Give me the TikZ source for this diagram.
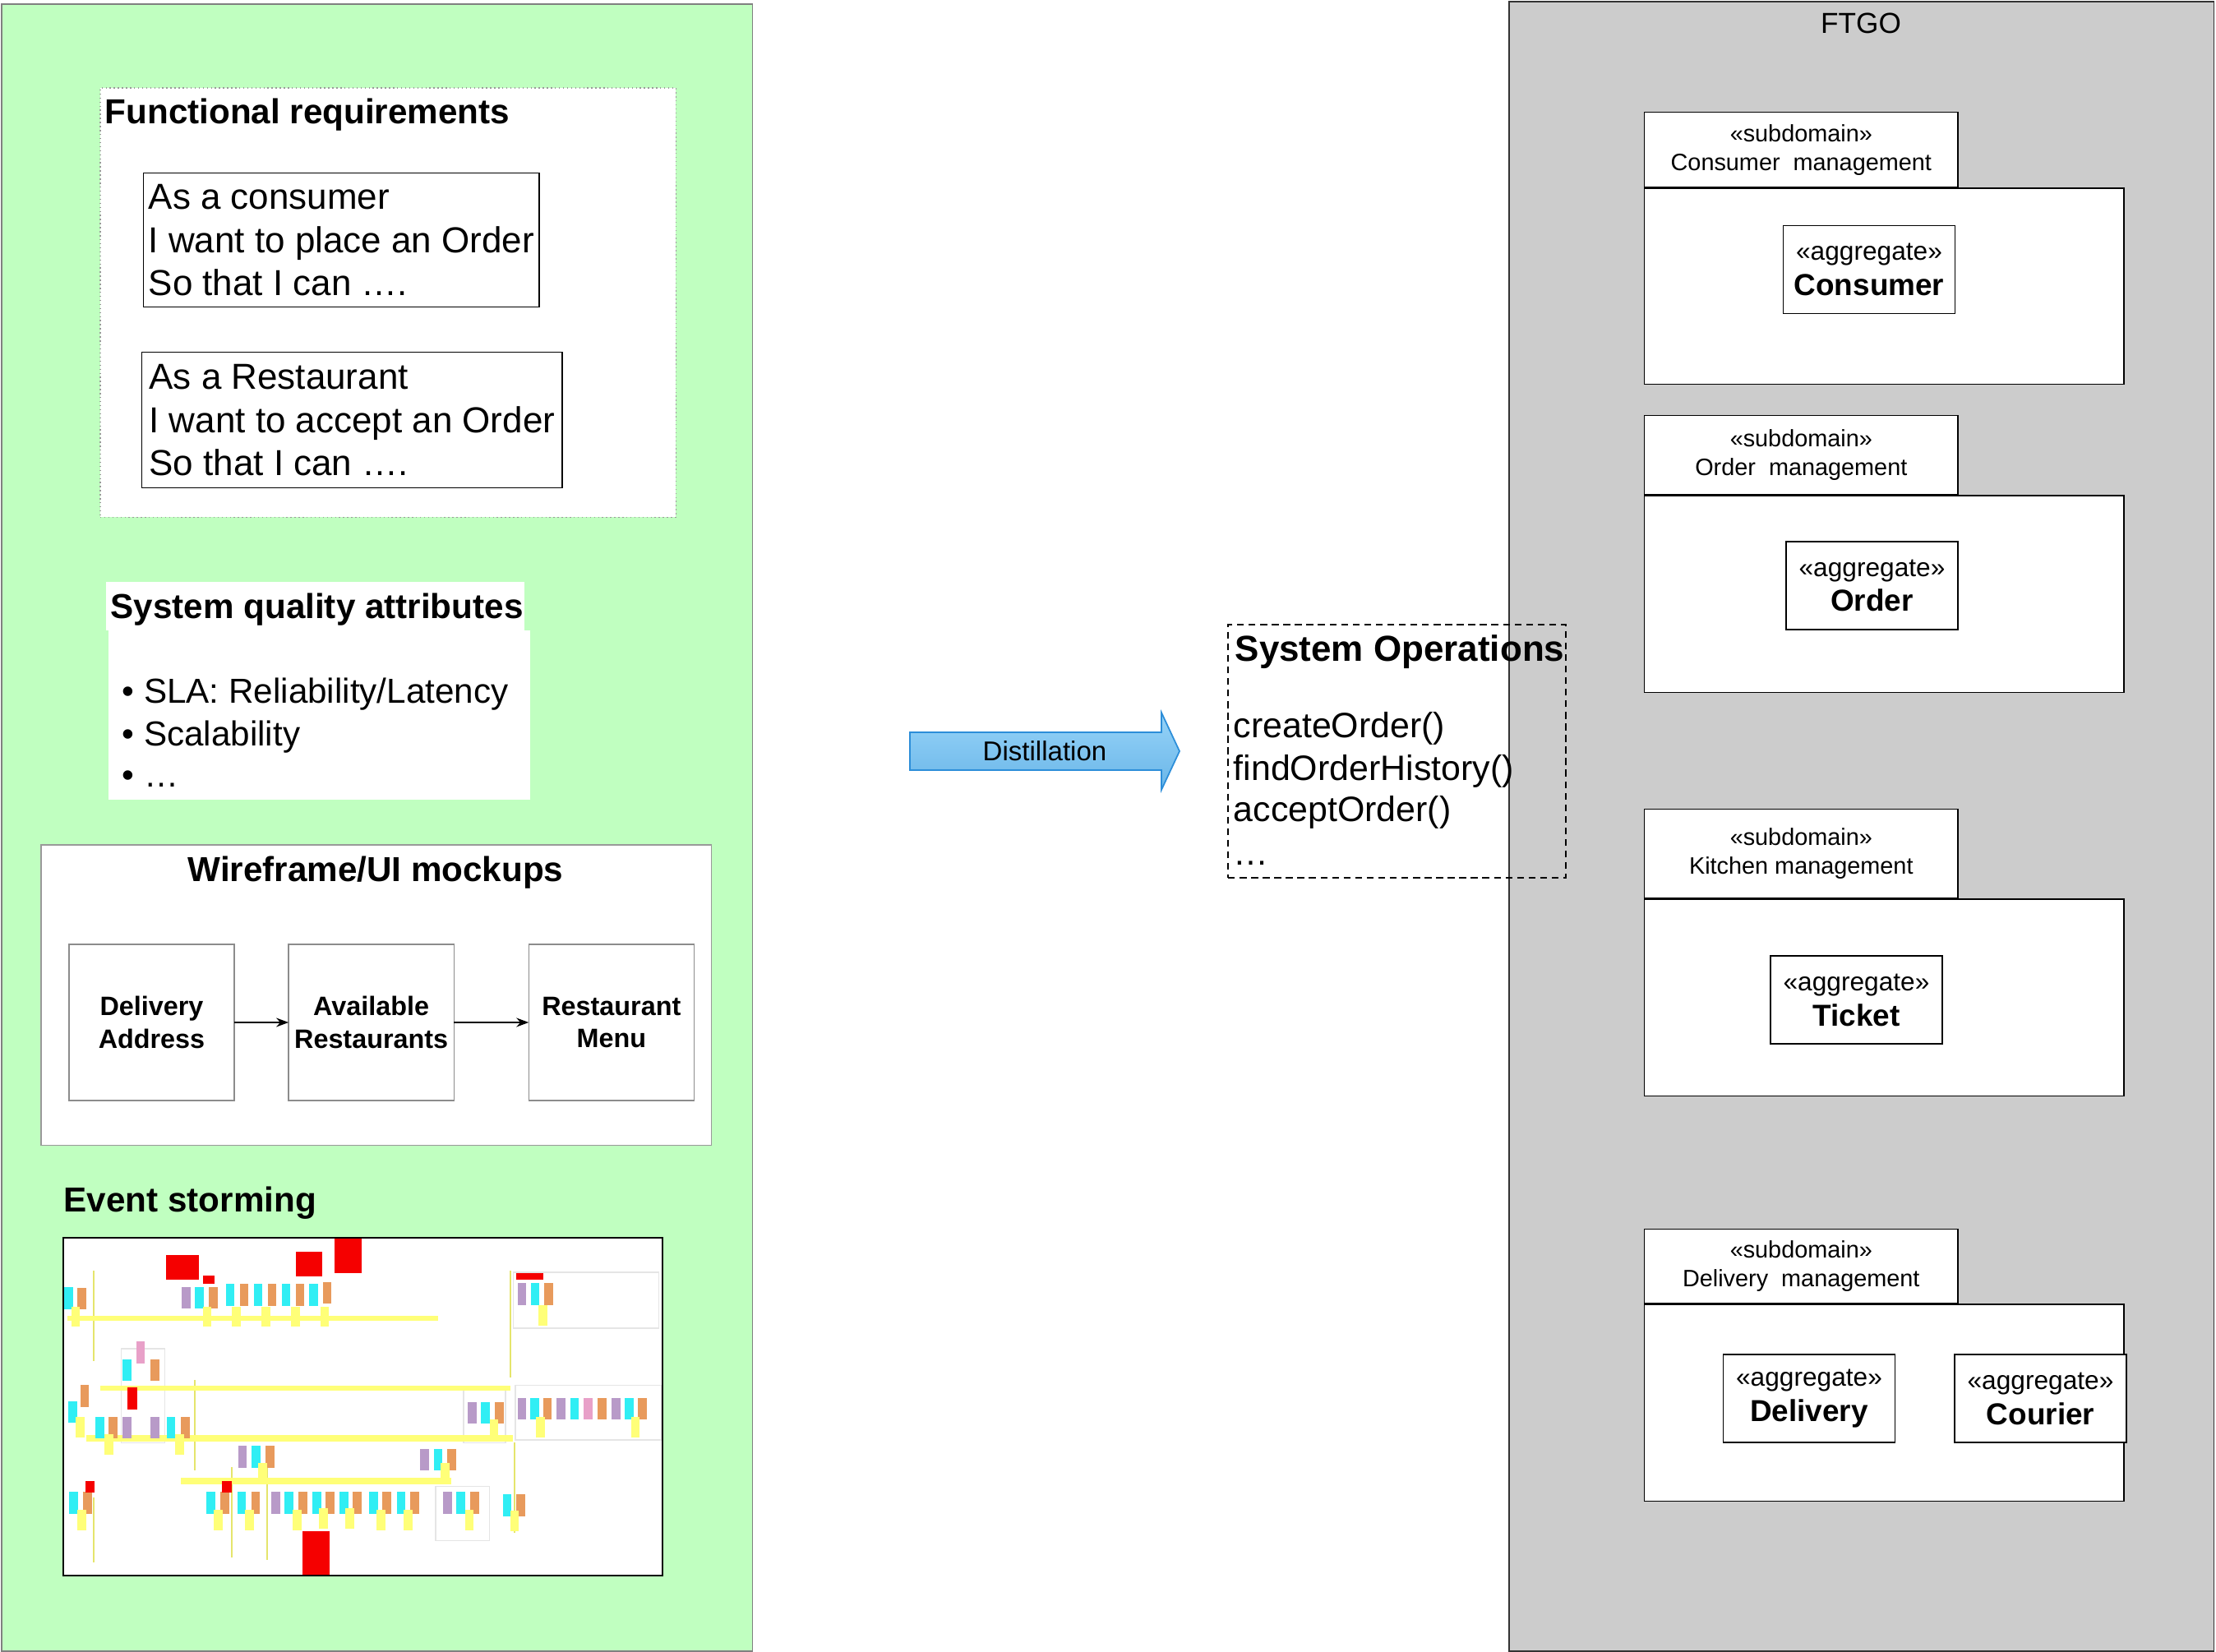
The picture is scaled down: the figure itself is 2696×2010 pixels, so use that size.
\documentclass[tikz,border=0pt]{standalone}
\usepackage{fontspec}
\setmainfont{Liberation Sans}
\usetikzlibrary{positioning,arrows.meta}
\definecolor{verde}{HTML}{C0FFC0}
\definecolor{gri}{HTML}{CCCCCC}
\definecolor{sagtop}{HTML}{96D3F8}
\definecolor{sagbot}{HTML}{6AB6E8}
\definecolor{sagline}{HTML}{2C8ED9}
\definecolor{stcyan}{HTML}{30EEF4}
\definecolor{storange}{HTML}{E89A5C}
\definecolor{stpurple}{HTML}{B89AC8}
\definecolor{stpink}{HTML}{E8A0C8}
\definecolor{styellow}{HTML}{FFFF78}
\definecolor{stred}{HTML}{F50000}
\newcommand{\aggtext}[1]{«aggregate»\\{\fontsize{10.5}{12.2}\selectfont\bfseries #1}}
\tikzset{
  panel/.style   = {anchor=north west, inner sep=0pt, outer sep=0pt},
  heading/.style = {font=\fontsize{12}{14}\selectfont\bfseries, inner sep=0pt},
  story/.style   = {draw, anchor=north west, align=left, inner xsep=1.5pt,
                    font=\fontsize{12.5}{15}\selectfont},
  item/.style    = {anchor=base west, inner sep=0pt, font=\fontsize{12}{14}\selectfont},
  op/.style      = {anchor=base west, inner sep=0pt, font=\fontsize{12.2}{14.4}\selectfont},
  screen/.style  = {draw=black!45, fill=white, outer sep=0pt, inner xsep=0pt,
                    minimum width=2.01cm, minimum height=1.90cm, align=center,
                    font=\fontsize{9.2}{11.3}\selectfont\bfseries},
  tab/.style     = {draw, fill=white, anchor=north west, minimum width=3.81cm, align=center,
                    font=\fontsize{8.2}{10}\selectfont},
  pkg/.style     = {draw, fill=white, minimum width=5.83cm},
  aggr/.style    = {draw, fill=white, minimum width=2.09cm, minimum height=1.07cm,
                    align=center, font=\fontsize{9}{12.2}\selectfont},
  flow/.style    = {-{Stealth[length=1.5mm, width=1.1mm]}}
}

\begin{document}
\begin{tikzpicture}[x=0.01cm, y=-0.01cm]
  \useasboundingbox (0,0) rectangle (2696,2010);

  % the two panels
  \node[panel, fill=verde, draw=black!50, minimum width=9.13cm, minimum height=20.03cm] (inputs) at (2,5) {};
  \node[panel, fill=gri, draw=black!80, minimum width=8.57cm, minimum height=20.06cm] (ftgo) at (1836,2) {};
  \node[anchor=base, inner sep=0pt, font=\fontsize{10}{12}\selectfont] (ftgot) at (2264,41) {FTGO};

  % functional requirements
  \node[panel, fill=white, draw=black!40, densely dotted, minimum width=7.00cm, minimum height=5.22cm] (fr) at (122,107) {};
  \node[heading, anchor=base west] (frt) at (127,151) {Functional requirements};
  \node[story, minimum width=4.81cm, minimum height=1.63cm] (us1) at (174,210)
      {As a consumer\\I want to place an Order\\So that I can ….};
  \node[story, minimum width=5.11cm, minimum height=1.65cm] (us2) at (172,428)
      {As a Restaurant\\I want to accept an Order\\So that I can ….};

  % quality attributes
  \node[panel, fill=white, minimum width=5.09cm, minimum height=0.59cm] (sqa) at (129,708) {};
  \node[panel, fill=white, minimum width=5.13cm, minimum height=2.06cm] (sqab) at (132,767) {};
  \node[heading, anchor=base west] (sqat) at (134,753) {System quality attributes};
  \node[item] (q1) at (148,856) {• SLA: Reliability/Latency};
  \node[item] (q2) at (148,908) {• Scalability};
  \node[item] (q3) at (148,958) {• …};

  % wireframes
  \node[panel, fill=white, draw=black!40, minimum width=8.15cm, minimum height=3.65cm] (wf) at (50,1028) {};
  \node[heading, anchor=base] (wft) at (457,1073) {Wireframe/UI mockups};
  \node[screen] (w1) at (184.5,1244) {Delivery\\Address};
  \node[screen, right=0.66cm of w1] (w2) {Available\\Restaurants};
  \node[screen, right=0.91cm of w2] (w3) {Restaurant\\Menu};
  \draw[flow] (w1) -- (w2);
  \draw[flow] (w2) -- (w3);

  % event storming board
  \node[heading, anchor=base west] (est) at (77,1475) {Event storming};
  \node[panel, fill=white, minimum width=7.29cm, minimum height=4.11cm] (es) at (77,1506) {};
  \begin{scope}
    \clip (es.north west) rectangle (es.south east);
    \begin{scope}[shift={(60,1490)}, xscale=0.4847, yscale=0.3317]
      \foreach \a/\b/\c/\d in {1165/175/1530/380, 1170/590/1537/790, 1040/600/1145/800,
                               970/960/1105/1160, 180/455/290/800}
        \draw[black!10] (\a,\b) rectangle (\c,\d);
      \foreach \a/\b/\c in {111/170/500, 1157/170/560, 365/570/900, 111/1000/1240,
                            458/890/1220, 547/850/1230, 1167/800/1130}
        \draw[styellow!90!black, line width=0.5pt] (\a,\b) -- (\a,\c);
      \foreach \a/\b/\c/\d in {45/335/975/352, 128/590/1157/610, 93/773/1163/795, 330/930/1008/952}
        \fill[styellow] (\a,\b) rectangle (\c,\d);
      \foreach \x/\y in {38/230, 366/228, 443/218, 513/218, 583/218, 652/218, 1208/215,
                         184/493, 48/648, 116/705, 294/705, 1084/650, 1207/635, 1307/635,
                         1444/635, 508/812, 965/822, 50/980, 394/980, 472/980, 591/980,
                         660/980, 728/980, 803/980, 872/980, 1022/980, 1138/990}
        \fill[stcyan] (\x,\y) rectangle ++(22,80);
      \foreach \x/\y in {70/232, 400/228, 478/218, 548/218, 618/218, 686/210, 1243/215,
                         254/493, 78/588, 149/705, 330/705, 1119/650, 1239/635, 1376/635,
                         1477/635, 543/812, 999/822, 85/980, 429/980, 507/980, 626/980,
                         694/980, 762/980, 836/980, 906/980, 1057/980, 1172/990}
        \fill[storange] (\x,\y) rectangle ++(22,80);
      \foreach \x/\y in {332/228, 1175/215, 184/705, 254/705, 1050/650, 1175/635, 1273/635,
                         1412/635, 474/812, 931/822, 557/980, 988/980}
        \fill[stpurple] (\x,\y) rectangle ++(22,80);
      \foreach \x/\y in {218/428, 1342/635}
        \fill[stpink] (\x,\y) rectangle ++(22,80);
      \foreach \x/\y in {55/300, 385/300, 458/300, 533/300, 607/300, 680/300, 1228/295,
                         66/705, 138/770, 316/770, 1105/715, 1222/705, 1460/705, 524/875,
                         982/875, 70/1045, 413/1045, 492/1045, 611/1045, 677/1040, 743/1040,
                         822/1045, 890/1045, 1043/1045, 1157/1050}
        \fill[styellow] (\x,\y) rectangle ++(22,75);
      \foreach \a/\b/\c/\d in {293/113/375/203, 618/100/685/190, 716/40/783/178,
                               197/598/220/678, 636/1125/703/1300, 386/188/415/218,
                               1172/178/1240/203, 91/942/113/982, 434/942/457/982}
        \fill[stred] (\a,\b) rectangle (\c,\d);
    \end{scope}
  \end{scope}
  \draw[line width=0.6pt] (es.north west) rectangle (es.south east);

  % distillation arrow
  \shade[top color=sagtop, bottom color=sagbot, draw=sagline, line width=0.5pt]
    (1107,891) -- (1413,891) -- (1413,867) -- (1435,914) -- (1413,961) -- (1413,937) -- (1107,937) -- cycle;
  \node[font=\fontsize{9.4}{11}\selectfont] (dist) at (1271,914) {Distillation};

  % subdomains
  \node[tab, minimum height=0.91cm] (sd1) at (2000,136) {«subdomain»\\Consumer~~management};
  \node[pkg, below=0pt of sd1.south west, anchor=north west, minimum height=2.38cm] (sd1b) {};
  \node[aggr] (a1) at (2274,328) {\aggtext{Consumer}};

  \node[tab, minimum height=0.96cm] (sd2) at (2000,505) {«subdomain»\\Order~~management};
  \node[pkg, below=0pt of sd2.south west, anchor=north west, minimum height=2.39cm] (sd2b) {};
  \node[aggr] (a2) at (2277.5,712.5) {\aggtext{Order}};

  \node[tab, minimum height=1.08cm] (sd3) at (2000,984) {«subdomain»\\Kitchen management};
  \node[pkg, below=0pt of sd3.south west, anchor=north west, minimum height=2.39cm] (sd3b) {};
  \node[aggr] (a3) at (2258.5,1216.5) {\aggtext{Ticket}};

  \node[tab, minimum height=0.90cm] (sd4) at (2000,1495) {«subdomain»\\Delivery~~management};
  \node[pkg, below=0pt of sd4.south west, anchor=north west, minimum height=2.39cm] (sd4b) {};
  \node[aggr] (a4) at (2201,1701.5) {\aggtext{Delivery}};
  \node[aggr] (a5) at (2482.5,1701.5) {\aggtext{Courier}};

  % system operations
  \node[panel, draw, dash pattern=on 2.4pt off 1.6pt, line width=0.6pt,
        minimum width=4.11cm, minimum height=3.08cm] (ops) at (1494,760) {};
  \node[anchor=base west, inner sep=0pt, font=\fontsize{12.5}{15}\selectfont\bfseries] (opst) at (1502,805) {System Operations};
  \node[op] (o1) at (1500,898) {createOrder()};
  \node[op] (o2) at (1500,950) {findOrderHistory()};
  \node[op] (o3) at (1500,1000) {acceptOrder()};
  \node[op] (o4) at (1500,1053) {…};
\end{tikzpicture}
\end{document}
